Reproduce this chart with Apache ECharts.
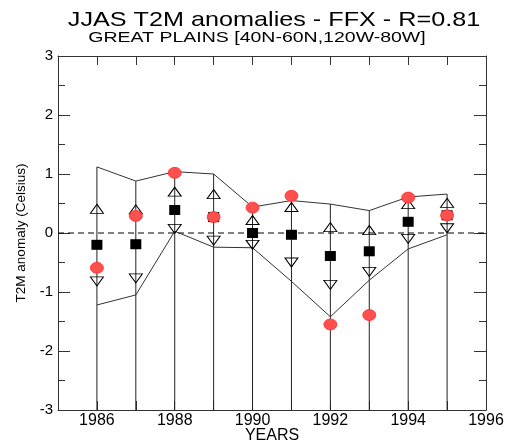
<!DOCTYPE html>
<html>
<head>
<meta charset="utf-8">
<script src="https://cdn.jsdelivr.net/npm/echarts@6/dist/echarts.min.js"></script>
<style>
  html, body { margin: 0; padding: 0; background: #fff; }
  #chart { width: 507px; height: 443px; }
</style>
</head>
<body>
<div id="chart"></div>
<script>
// JJAS T2M anomalies, Great Plains: ensemble spread, members and observations
const years     = [1986, 1987, 1988, 1989, 1990, 1991, 1992, 1993, 1994, 1995];
const ensMax    = [1.12, 0.88, 1.04, 1.00, 0.44, 0.55, 0.49, 0.38, 0.61, 0.66];
const ensMin    = [-1.22, -1.05, 0.03, -0.24, -0.25, -0.82, -1.42, -0.80, -0.27, -0.03];
const upperMark = [0.41, 0.40, 0.70, 0.66, 0.22, 0.44, 0.10, 0.05, 0.49, 0.51];
const lowerMark = [-0.82, -0.77, 0.07, -0.13, -0.20, -0.50, -0.88, -0.66, -0.10, 0.08];
const ensMean   = [-0.20, -0.19, 0.39, 0.27, 0.00, -0.03, -0.39, -0.31, 0.19, 0.30];
const observed  = [-0.59, 0.29, 1.02, 0.27, 0.43, 0.63, -1.55, -1.39, 0.60, 0.30];

const yearMin = 1985, yearMax = 1996;
const tempMin = -3, tempMax = 3;

const pairs = vals => years.map((y, i) => [y, vals[i]]);
const FONT = 'Liberation Sans, Arial, Helvetica, sans-serif';
const axisColor = '#333';

const chart = echarts.init(document.getElementById('chart'), null, { renderer: 'canvas' });

const baseX = {
  type: 'value', min: yearMin, max: yearMax, interval: 1,
  axisLine: { show: true, onZero: false, lineStyle: { color: axisColor, width: 1 } },
  axisTick: { show: true, inside: true, length: 9, lineStyle: { color: axisColor } },
  splitLine: { show: false }
};
const baseY = {
  type: 'value', min: tempMin, max: tempMax, interval: 1,
  axisLine: { show: true, onZero: false, lineStyle: { color: axisColor, width: 1 } },
  axisTick: { show: true, inside: true, length: 12, lineStyle: { color: axisColor } },
  minorTick: { show: true, splitNumber: 2, length: 7, lineStyle: { color: axisColor } },
  splitLine: { show: false }, minorSplitLine: { show: false }
};

chart.setOption({
  animation: false,
  backgroundColor: '#fff',
  grid: { left: 58, right: 21, top: 56, bottom: 33, containLabel: false, outerBoundsMode: 'none' },
  graphic: [
    {
      type: 'text', x: 274, y: 20, scaleX: 1.2,
      style: { text: 'JJAS T2M anomalies - FFX - R=0.81', fontFamily: FONT, fontSize: 21,
               fill: '#000', textAlign: 'center', textVerticalAlign: 'middle' }
    },
    {
      type: 'text', x: 257, y: 37.5, scaleX: 1.3,
      style: { text: 'GREAT PLAINS [40N-60N,120W-80W]', fontFamily: FONT, fontSize: 15,
               fill: '#000', textAlign: 'center', textVerticalAlign: 'middle' }
    }
  ],
  xAxis: [
    Object.assign({}, baseX, {
      position: 'bottom',
      name: 'YEARS', nameLocation: 'middle', nameGap: 18, nameMoveOverlap: false,
      nameTextStyle: { fontFamily: FONT, fontSize: 16, color: '#000' },
      axisLabel: {
        show: true, margin: 3, fontFamily: FONT, fontSize: 16, color: '#000',
        showMinLabel: true, showMaxLabel: true,
        formatter: v => (v % 2 === 0 ? String(v) : '')
      }
    }),
    Object.assign({}, baseX, { position: 'top', axisLabel: { show: false } })
  ],
  yAxis: [
    Object.assign({}, baseY, {
      position: 'left',
      name: 'T2M anomaly (Celsius)', nameLocation: 'middle', nameGap: 30, nameMoveOverlap: false,
      nameTextStyle: { fontFamily: FONT, fontSize: 13.5, color: '#000' },
      axisLabel: { show: true, margin: 5, fontFamily: FONT, fontSize: 15, color: '#000',
                   showMinLabel: true, showMaxLabel: true }
    }),
    Object.assign({}, baseY, { position: 'right', axisLabel: { show: false } })
  ],
  series: [
    {
      // vertical stems from the bottom of the plot up to the ensemble maximum
      type: 'custom', silent: true, z: 1,
      data: pairs(ensMax),
      renderItem: (params, api) => {
        const top = api.coord([api.value(0), api.value(1)]);
        const bot = api.coord([api.value(0), tempMin]);
        return {
          type: 'line',
          shape: { x1: top[0], y1: top[1], x2: bot[0], y2: bot[1] },
          style: { stroke: '#222', lineWidth: 1 }
        };
      }
    },
    {
      // zero reference
      type: 'line', silent: true, z: 2, symbol: 'none',
      data: [[yearMin, 0], [yearMax, 0]],
      lineStyle: { color: '#000', width: 1, type: [6, 4] }
    },
    {
      type: 'line', silent: true, z: 2, symbol: 'none',
      data: pairs(ensMax), lineStyle: { color: '#333', width: 1 }
    },
    {
      type: 'line', silent: true, z: 2, symbol: 'none',
      data: pairs(ensMin), lineStyle: { color: '#333', width: 1 }
    },
    {
      type: 'scatter', silent: true, z: 3,
      symbol: 'path://M5,0 L10,9 L0,9 Z', symbolSize: [13, 9],
      data: pairs(upperMark),
      itemStyle: { color: 'rgba(0,0,0,0)', borderColor: '#000', borderWidth: 1, opacity: 1 }
    },
    {
      type: 'scatter', silent: true, z: 3,
      symbol: 'path://M0,0 L10,0 L5,9 Z', symbolSize: [13, 9],
      data: pairs(lowerMark),
      itemStyle: { color: 'rgba(0,0,0,0)', borderColor: '#000', borderWidth: 1, opacity: 1 }
    },
    {
      type: 'scatter', silent: true, z: 4,
      symbol: 'rect', symbolSize: [11, 10],
      data: pairs(ensMean),
      itemStyle: { color: '#000', opacity: 1 }
    },
    {
      type: 'scatter', silent: true, z: 5,
      symbol: 'circle', symbolSize: [13, 11],
      data: pairs(observed),
      itemStyle: { color: '#ff5050', borderColor: '#ff2a2a', borderWidth: 0.8, opacity: 1 }
    }
  ]
});
</script>
</body>
</html>
